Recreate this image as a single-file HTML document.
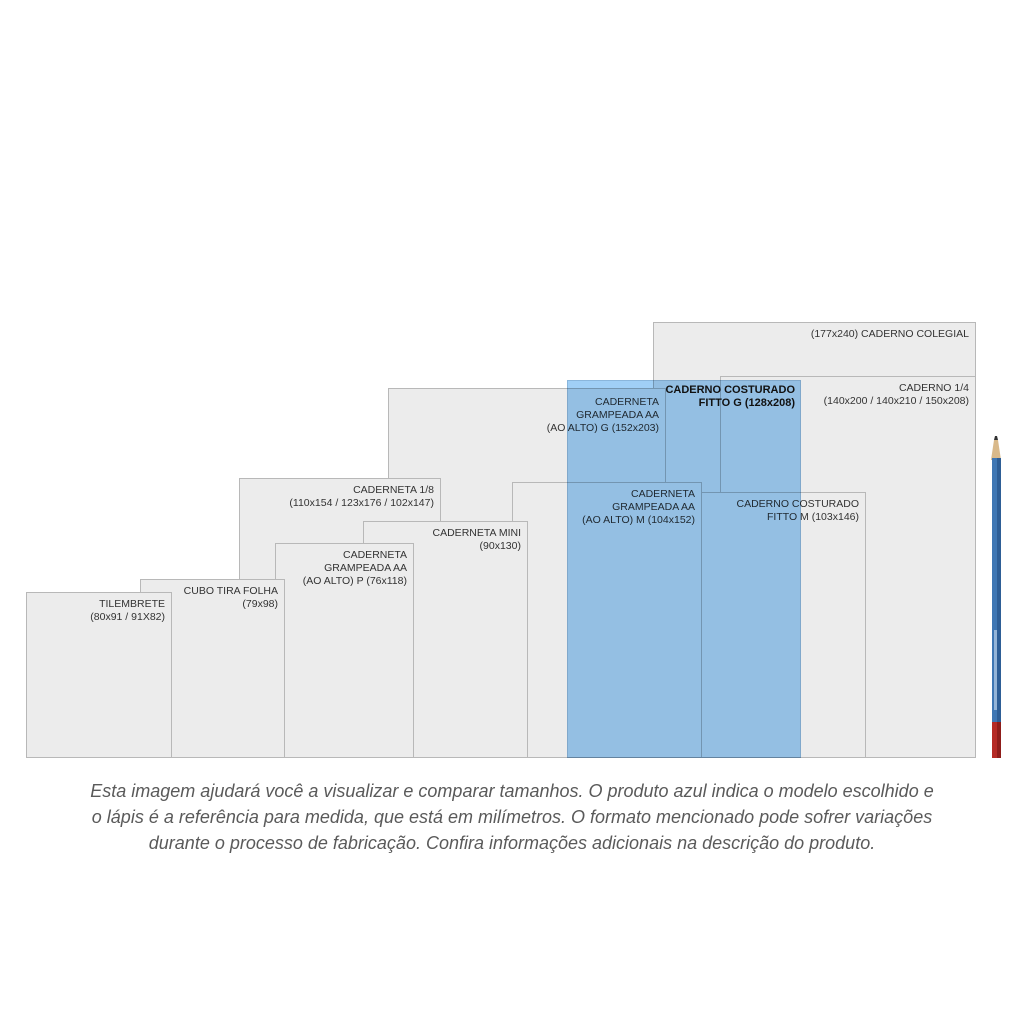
<!DOCTYPE html>
<html><head><style>
body{margin:0;width:1024px;height:1024px;background:#fff;position:relative;overflow:hidden;font-family:"Liberation Sans",sans-serif}
.b{position:absolute;background:#ececec;border:1px solid #b8b8b8;box-sizing:border-box;text-align:right;font-size:10.5px;line-height:13px;color:#333;padding:5px 6px 0 0}
.blue{position:absolute;left:567px;top:380px;width:234px;height:378px;background:#a0cff6;mix-blend-mode:multiply;border:1px solid #8ab6dc;box-sizing:border-box}
.cap{position:absolute;left:0;width:1024px;top:778px;text-align:center;font-style:italic;font-size:18px;line-height:26px;color:#5a5a5a}
</style></head><body>
<div class="b" style="left:653px;top:322px;width:323px;height:436px;padding-top:5px">(177x240) CADERNO COLEGIAL</div>
<div class="b" style="left:720px;top:376px;width:256px;height:382px">CADERNO 1/4<br>(140x200 / 140x210 / 150x208)</div>
<div class="b" style="left:388px;top:388px;width:278px;height:370px;padding-top:7px">CADERNETA<br>GRAMPEADA AA<br>(AO ALTO) G (152x203)</div>
<div class="b" style="left:239px;top:478px;width:202px;height:280px">CADERNETA 1/8<br>(110x154 / 123x176 / 102x147)</div>
<div class="b" style="left:512px;top:482px;width:190px;height:276px;padding-top:5px">CADERNETA<br>GRAMPEADA AA<br>(AO ALTO) M (104x152)</div>
<div class="b" style="left:701px;top:492px;width:165px;height:266px;padding-top:5px">CADERNO COSTURADO<br>FITTO M (103x146)</div>
<div class="b" style="left:363px;top:521px;width:165px;height:237px">CADERNETA MINI<br>(90x130)</div>
<div class="b" style="left:275px;top:543px;width:139px;height:215px">CADERNETA<br>GRAMPEADA AA<br>(AO ALTO) P (76x118)</div>
<div class="b" style="left:140px;top:579px;width:145px;height:179px">CUBO TIRA FOLHA<br>(79x98)</div>
<div class="b" style="left:26px;top:592px;width:146px;height:166px">TILEMBRETE<br>(80x91 / 91X82)</div>
<div class="blue"></div>
<div style="position:absolute;left:567px;top:384px;width:228px;text-align:right;font-size:11px;line-height:13px;font-weight:bold;color:#111">CADERNO COSTURADO<br>FITTO G (128x208)</div>
<svg style="position:absolute;left:985px;top:430px" width="30" height="335">
<polygon points="9,10 13,10 12,6 10,6" fill="#333"/>
<polygon points="9,10 13,10 16,30 6,30" fill="#d9b98a"/>
<rect x="7" y="28" width="9" height="264" fill="#3f77b4"/>
<rect x="12" y="28" width="4" height="264" fill="#2e5e96"/>
<rect x="7" y="292" width="9" height="36" fill="#b52a25"/>
<rect x="12" y="292" width="4" height="36" fill="#8f1d1a"/>
<rect x="9" y="200" width="3" height="80" fill="#cfe0f0" opacity=".6"/>
</svg>
<div class="cap">Esta imagem ajudará você a visualizar e comparar tamanhos. O produto azul indica o modelo escolhido e<br>o lápis é a referência para medida, que está em milímetros. O formato mencionado pode sofrer variações<br>durante o processo de fabricação. Confira informações adicionais na descrição do produto.</div>
</body></html>
